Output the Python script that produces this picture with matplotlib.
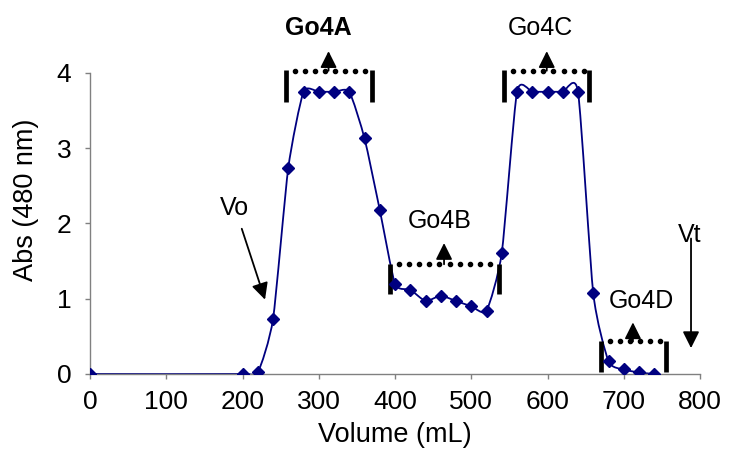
import matplotlib
matplotlib.use('Agg')
import matplotlib.pyplot as plt
from matplotlib.path import Path
from matplotlib.patches import PathPatch
import numpy as np

plt.rcParams['font.family'] = ['Liberation Sans', 'DejaVu Sans']

# elution profile (volume in mL, absorbance at 480 nm)
volume = [0, 200, 220, 240, 260, 280, 300, 320, 340, 360, 380, 400, 420, 440,
          460, 480, 500, 520, 540, 560, 580, 600, 620, 640, 660, 680, 700, 720, 740]
absorb = [0, 0, 0.02, 0.73, 2.74, 3.75, 3.75, 3.75, 3.75, 3.13, 2.18, 1.20, 1.12, 0.97,
          1.04, 0.97, 0.90, 0.84, 1.61, 3.75, 3.75, 3.75, 3.75, 3.75, 1.07, 0.17, 0.06, 0.02, 0.0]

x_ticks = [0, 100, 200, 300, 400, 500, 600, 700, 800]
y_ticks = [0, 1, 2, 3, 4]

# pooled fractions: name, left, right, level, bottom, arrow x, arrow tip, label x, label y, bold
fractions = [
    ('Go4A', 256.4, 369.8, 4.03, 3.62, 312.8, 4.29, 299, 4.51, True),
    ('Go4B', 393.5, 535.8, 1.458, 1.06, 464.3, 1.74, 458, 1.94, False),
    ('Go4C', 543.0, 654.4, 4.03, 3.62, 599.0, 4.29, 590, 4.51, False),
    ('Go4D', 669.5, 754.8, 0.433, 0.02, 712.0, 0.686, 723, 0.872, False),
]


def smooth_path(xs, ys, k=0.1):
    # smoothed line like the spreadsheet one: Bezier segments through every point
    pts = np.column_stack([xs, ys]).astype(float)
    n = len(pts)
    verts = [pts[0]]
    codes = [Path.MOVETO]
    for i in range(n - 1):
        p_prev = pts[i - 1] if i > 0 else pts[i]
        p_next = pts[i + 2] if i + 2 < n else pts[i + 1]
        c1 = pts[i] + (pts[i + 1] - p_prev) * k
        c2 = pts[i + 1] - (p_next - pts[i]) * k
        verts += [c1, c2, pts[i + 1]]
        codes += [Path.CURVE4] * 3
    return Path(verts, codes)


fig = plt.figure(figsize=(7.32, 4.59), dpi=100)
ax = fig.add_axes([0.1230, 0.1852, 0.8333, 0.6558])

ax.add_patch(PathPatch(smooth_path(volume, absorb), facecolor='none',
                       edgecolor='#000080', lw=1.3, zorder=2))
ax.plot(volume, absorb, ls='none', marker='D', ms=6.3,
        markerfacecolor='#000080', markeredgecolor='#000080', zorder=3)

ax.set_xlim(0, 800)
ax.set_ylim(0, 4)
ax.set_xticks(x_ticks)
ax.set_yticks(y_ticks)
for s in ['top', 'right']:
    ax.spines[s].set_visible(False)
for s in ['left', 'bottom']:
    ax.spines[s].set_color('#808080')
    ax.spines[s].set_linewidth(1.0)
ax.tick_params(direction='out', length=3.5, width=1.0, color='#808080',
               labelsize=19, pad=8)
ax.tick_params(axis='y', pad=10)

ax.set_xlabel('Volume (mL)', fontsize=19.5, labelpad=6)
ax.set_ylabel('Abs (480 nm)', fontsize=19.5)
ax.yaxis.set_label_coords(-0.105, 0.578)
ax.yaxis.label.set_verticalalignment('center')

arrow_kw = dict(arrowstyle='-|>', color='black', lw=1.3, mutation_scale=25,
                shrinkA=0, shrinkB=0)

for name, x0, x1, lev, bot, ax_x, tip, tx, ty, bold in fractions:
    ax.plot([x0, x0], [bot, lev + 0.01], color='black', lw=3.4,
            solid_capstyle='butt', clip_on=False)
    ax.plot([x1, x1], [bot, lev + 0.01], color='black', lw=3.4,
            solid_capstyle='butt', clip_on=False)
    # dotted top of the bracket, one dot every ~10 px
    dots = np.arange(x0 + 11.8, x1 - 3, 13.25)
    ax.plot(dots, np.full(len(dots), lev), 'o', color='black', ms=3.0,
            clip_on=False)
    ax.annotate('', xy=(ax_x, tip), xytext=(ax_x, lev),
                arrowprops=arrow_kw, annotation_clip=False)
    ax.text(tx, ty, name, fontsize=18, ha='center', va='baseline',
            fontweight='bold' if bold else 'normal')

# void volume and total volume markers
ax.annotate('', xy=(229.5, 0.988), xytext=(199, 1.93),
            arrowprops=arrow_kw, annotation_clip=False)
ax.text(189, 2.11, 'Vo', fontsize=18, ha='center', va='baseline')
ax.annotate('', xy=(788.2, 0.344), xytext=(788.2, 1.80),
            arrowprops=arrow_kw, annotation_clip=False)
ax.text(787, 1.755, 'Vt', fontsize=18, ha='center', va='baseline')

fig.savefig('out.png', dpi=100)
